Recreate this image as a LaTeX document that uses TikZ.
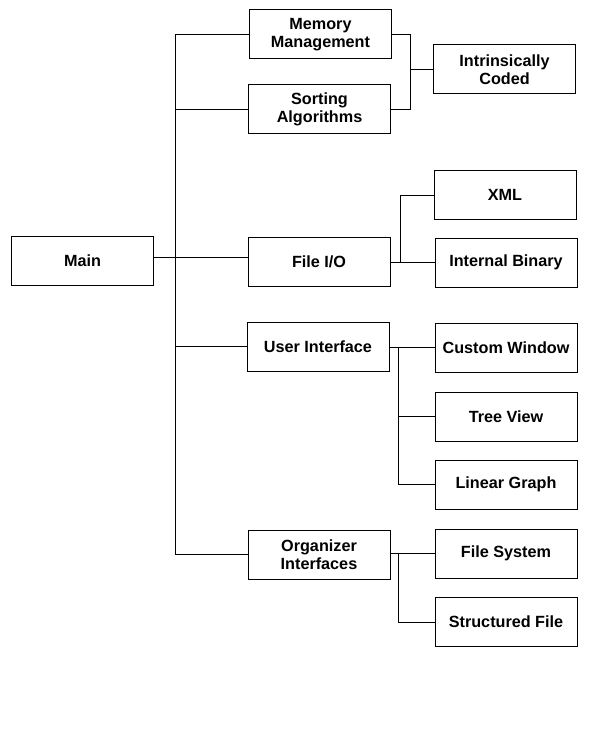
\documentclass[tikz,border=0pt]{standalone}
\usepackage{fontspec}
\setmainfont{Liberation Sans}
\usepackage{tikz}

\begin{document}
\begin{tikzpicture}[x=1pt,y=-1pt,line width=1pt,
  box/.style={draw,minimum width=142pt,minimum height=49pt,inner sep=0pt,align=center,
    font=\fontsize{16.2}{18}\selectfont\bfseries}]
\useasboundingbox (0,0) rectangle (595,746);
\fill[white] (0,0) rectangle (595,746);

% Boxes, left column and middle column.
\node[box] (main) at (82.5,261) {Main};
\node[box] (mem) at (320.5,34.5) {Memory\\Management};
\node[box] (sort) at (319.5,109.5) {Sorting\\Algorithms};
\node[box] (fileio) at (319,261.5) {File I/O};
\node[box] (ui) at (318,346.5) {User Interface};
\node[box] (org) at (319,554.5) {Organizer\\Interfaces};

% Boxes, right column.
\node[box] (intr) at (504.5,69.5) {Intrinsically\\Coded};
\node[box] (xml) at (505,195) {XML};
\node[box] (intbin) at (506,262.5) {Internal Binary};
\node[box] (custom) at (506,347.5) {Custom Window};
\node[box] (tree) at (506,416.5) {Tree View};
\node[box] (linear) at (506,484.5) {Linear Graph};
\node[box] (filesys) at (506,553.5) {File System};
\node[box] (struct) at (506,622) {Structured File};

% Trunk from Main.
\coordinate (bus) at (175,0);
\draw (mem.west) -- (mem.west -| bus) -- (org.west -| bus) -- (org.west);
\draw (sort.west) -- (sort.west -| bus);
\draw (ui.west) -- (ui.west -| bus);
\draw ([yshift=4pt]main.east) -- ([yshift=4pt]main.east -| fileio.west);

% Branches on the right.
\coordinate (icbus) at (410,0);
\draw (mem.east) -- (mem.east -| icbus) -- (sort.east -| icbus) -- (sort.east);
\draw (intr.west) -- (intr.west -| icbus);

\coordinate (fbus) at (400,0);
\draw (xml.west) -- (xml.west -| fbus) -- (intbin.west -| fbus) -- (intbin.west);
\draw (fileio.east |- intbin.west) -- (intbin.west -| fbus);

\coordinate (ubus) at (398,0);
\draw (ui.east |- custom.west) -- (custom.west);
\draw (custom.west -| ubus) -- (linear.west -| ubus) -- (linear.west);
\draw (tree.west) -- (tree.west -| ubus);

\draw (org.east |- filesys.west) -- (filesys.west);
\draw (filesys.west -| ubus) -- (struct.west -| ubus) -- (struct.west);
\end{tikzpicture}
\end{document}
